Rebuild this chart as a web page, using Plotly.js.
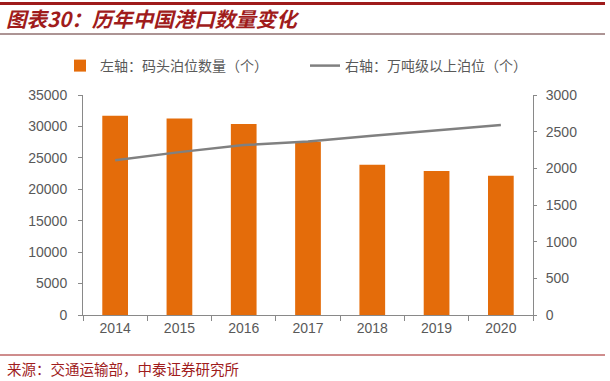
<!DOCTYPE html>
<html>
<head>
<meta charset="utf-8">
<script src="https://cdn.plot.ly/plotly-3.0.1.min.js"></script>
<style>html,body{margin:0;padding:0;background:#fff;}#chart{width:610px;height:381px;}</style>
</head>
<body>
<div id="chart"></div>
<script>
const years = ['2014', '2015', '2016', '2017', '2018', '2019', '2020'];
const berths = [31705, 31259, 30388, 27578, 23919, 22893, 22142];
const bigBerths = [2110, 2221, 2317, 2366, 2444, 2520, 2592];
const leftTicks = [0, 5000, 10000, 15000, 20000, 25000, 30000, 35000];
const rightTicks = [0, 500, 1000, 1500, 2000, 2500, 3000];
const seriesNames = ['左轴：码头泊位数量（个）', '右轴：万吨级以上泊位（个）'];
const titleText = '图表30：历年中国港口数量变化';
const sourceText = '来源：交通运输部，中泰证券研究所';

const L = 83, R = 77, T = 95, B = 66, W = 610, H = 381;
const pw = W - L - R, ph = H - T - B;
const px = x => (x - L) / pw;
const py = y => (H - B - y) / ph;

const tickFont = {family: 'Liberation Sans, Arial, sans-serif', size: 14, color: '#595959'};
const cjk = 'Noto Sans CJK SC, sans-serif';

const data = [
  {type: 'bar', x: years, y: berths, name: seriesNames[0], marker: {color: '#E46C0A'}, yaxis: 'y'},
  {type: 'scatter', mode: 'lines', x: years, y: bigBerths, name: seriesNames[1], line: {color: '#808080', width: 2.5}, yaxis: 'y2'}
];

const layout = {
  width: W, height: H,
  margin: {l: L, r: R, t: T, b: B, pad: 0},
  paper_bgcolor: '#fff', plot_bgcolor: '#fff',
  bargap: 0.6,
  showlegend: true,
  legend: {orientation: 'h', x: px(60), xanchor: 'left', y: py(50), yanchor: 'top',
    font: {family: cjk, size: 14, color: '#595959'}, entrywidth: 200, itemwidth: 30, bgcolor: 'rgba(0,0,0,0)'},
  title: {text: titleText, x: 6 / W, xanchor: 'left', xref: 'container', y: 1 - 20 / H, yanchor: 'middle', yref: 'container',
    font: {family: cjk, size: 20.5, color: '#A01C1C', weight: 'bold', style: 'italic'}},
  xaxis: {type: 'category', showline: true, linecolor: '#898989', linewidth: 1, ticks: 'outside', tickson: 'boundaries',
    ticklen: 5, tickcolor: '#898989', showgrid: false, zeroline: false, tickfont: tickFont, fixedrange: true},
  yaxis: {range: [0, 35000], tickvals: leftTicks, tickformat: 'd', showline: true, linecolor: '#898989', linewidth: 1, ticks: 'outside',
    ticklen: 4, tickcolor: '#898989', showgrid: false, zeroline: false, tickfont: tickFont, ticklabelstandoff: 8},
  yaxis2: {range: [0, 3000], tickvals: rightTicks, tickformat: 'd', overlaying: 'y', side: 'right', showline: true, linecolor: '#898989', linewidth: 1,
    ticks: 'outside', ticklen: 3, tickcolor: '#898989', showgrid: false, zeroline: false, tickfont: tickFont, ticklabelstandoff: 6},
  shapes: [
    {type: 'line', xref: 'paper', yref: 'paper', x0: px(0), x1: px(605), y0: py(3.5), y1: py(3.5), line: {color: '#9E1B1B', width: 3}},
    {type: 'line', xref: 'paper', yref: 'paper', x0: px(0), x1: px(605), y0: py(34), y1: py(34), line: {color: '#5A2A2A', width: 1}},
    {type: 'line', xref: 'paper', yref: 'paper', x0: px(0), x1: px(605), y0: py(355), y1: py(355), line: {color: '#9E1B1B', width: 1}}
  ],
  annotations: [
    {text: sourceText, xref: 'paper', yref: 'paper', x: px(5), y: py(368), xanchor: 'left', yanchor: 'middle', showarrow: false,
      font: {family: cjk, size: 14.5, color: '#A01C1C'}}
  ]
};

Plotly.newPlot('chart', data, layout, {displayModeBar: false, staticPlot: true});
</script>
</body>
</html>
